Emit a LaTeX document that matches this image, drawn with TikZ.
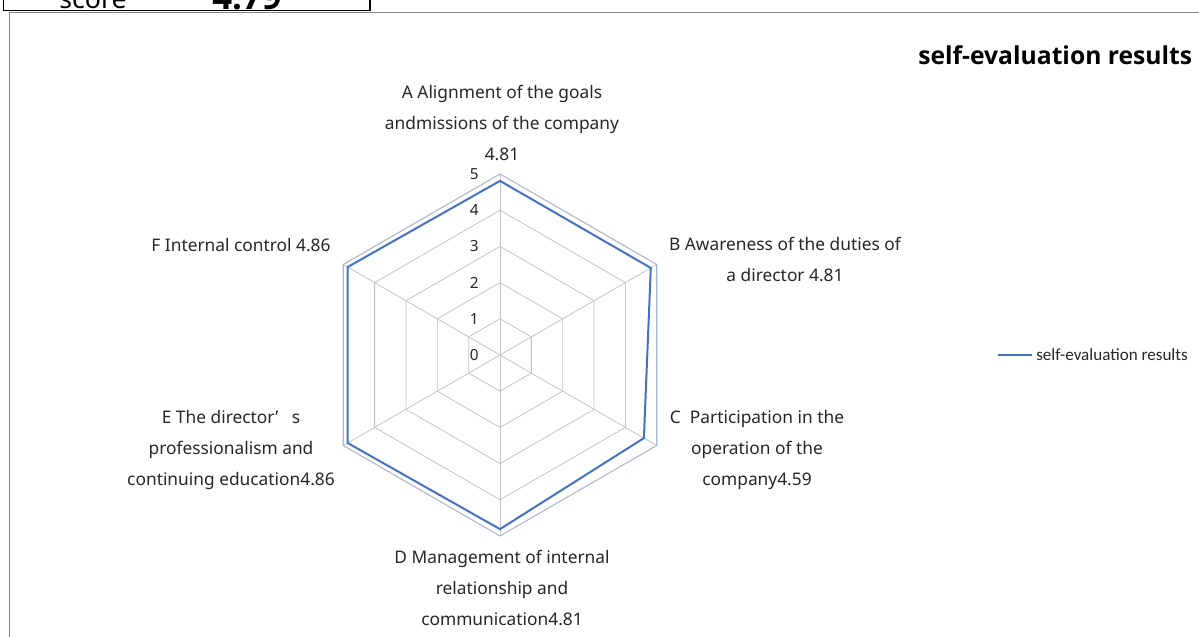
\documentclass[tikz,border=0pt]{standalone}
\usepackage{fontspec}
\setmainfont{Noto Sans}
\newfontfamily\legendfont{Carlito}
\newfontfamily\headfont{Open Sans}
\definecolor{gridgray}{RGB}{195,195,195}
\definecolor{outergray}{RGB}{170,182,205}
\definecolor{serieblue}{RGB}{68,114,196}
\definecolor{framegray}{RGB}{135,135,135}
\begin{document}
\begin{tikzpicture}[x=0.75pt,y=-0.75pt,
  lbl/.style={align=center, font=\fontsize{13}{23.25}\selectfont, inner sep=0pt, text=black!85},
  ticklbl/.style={font=\fontsize{11.5}{12}\selectfont, inner sep=0pt, anchor=east, text=black!85},
  gridline/.style={draw=gridgray, line width=0.6pt},
  outerline/.style={draw=outergray, line width=0.8pt},
  serie/.style={draw=serieblue, line width=1.5pt, line join=miter}]
\useasboundingbox (0,0) rectangle (1199,636);
\clip (0,0) rectangle (1199,636);

% score box at the top left
\draw[black, line width=1.1pt] (3.5,-40) -- (3.5,10.5) -- (370,10.5) -- (370,-40);
\node[anchor=base, inner sep=0pt, font=\fontsize{20}{20}\selectfont] (scorelbl) at (93,8) {score};
\node[anchor=base, inner sep=0pt, font=\headfont\bfseries\fontsize{26}{26}\selectfont] (scoreval) at (247,9) {4.79};

% chart area frame
\draw[framegray, line width=1pt] (9.5,640) -- (9.5,12.5) -- (1205,12.5);

% title
\node[anchor=base west, inner sep=0pt, font=\headfont\bfseries\fontsize{18.5}{20}\selectfont] (title) at (918,64) {self-evaluation results};

% radar grid and series
\begin{scope}[shift={(500,355)}, yscale=-1]
  \coordinate (O) at (0,0);
  \foreach \ang/\nm in {90/A,30/B,-30/C,-90/D,-150/E,150/F}{
    \coordinate (v\nm) at (\ang:181);
  }
  \foreach \k in {1,2,3,4}{
    \draw[gridline] (90:\k*36.2) -- (30:\k*36.2) -- (-30:\k*36.2) -- (-90:\k*36.2)
      -- (-150:\k*36.2) -- (150:\k*36.2) -- cycle;
  }
  \foreach \nm in {A,B,C,D,E,F}{ \draw[gridline] (O) -- (v\nm); }
  \draw[outerline] (vA) -- (vB) -- (vC) -- (vD) -- (vE) -- (vF) -- cycle;

  \coordinate (dA) at (90:4.81*36.2);
  \coordinate (dB) at (30:4.81*36.2);
  \coordinate (dC) at (-30:4.59*36.2);
  \coordinate (dD) at (-90:4.81*36.2);
  \coordinate (dE) at (-150:4.86*36.2);
  \coordinate (dF) at (150:4.86*36.2);
  \draw[serie] (dA) -- (dB) -- (dC) -- (dD) -- (dE) -- (dF) -- cycle;
\end{scope}

% axis tick labels
\foreach \k in {0,...,5}{
  \node[ticklbl] (tick\k) at (479,{355-\k*36.2}) {\k};
}

% category labels
\node[lbl] (lblA) at (502,123) {A Alignment of the goals\\andmissions of the company\\4.81};
\node[lbl] (lblB) at (785,259.5) {B Awareness of the duties of\\a director 4.81};
\node[lbl] (lblC) at (757,450) {C~ Participation in the\\operation of the\\company4.59};
\node[lbl] (lblD) at (502,588) {D Management of internal\\relationship and\\communication4.81};
\node[lbl] (lblE) at (231,450) {E The director’~~~s\\professionalism and\\continuing education4.86};
\node[lbl] (lblF) at (241,245) {F Internal control 4.86};

% legend
\coordinate (legA) at (998,355);
\coordinate (legB) at (1032,355);
\draw[serie] (legA) -- (legB);
\node[anchor=west, inner sep=0pt, font=\legendfont\fontsize{12.8}{14}\selectfont, text=black!85] (legtext) at (1036,355) {self-evaluation results};
\end{tikzpicture}
\end{document}
